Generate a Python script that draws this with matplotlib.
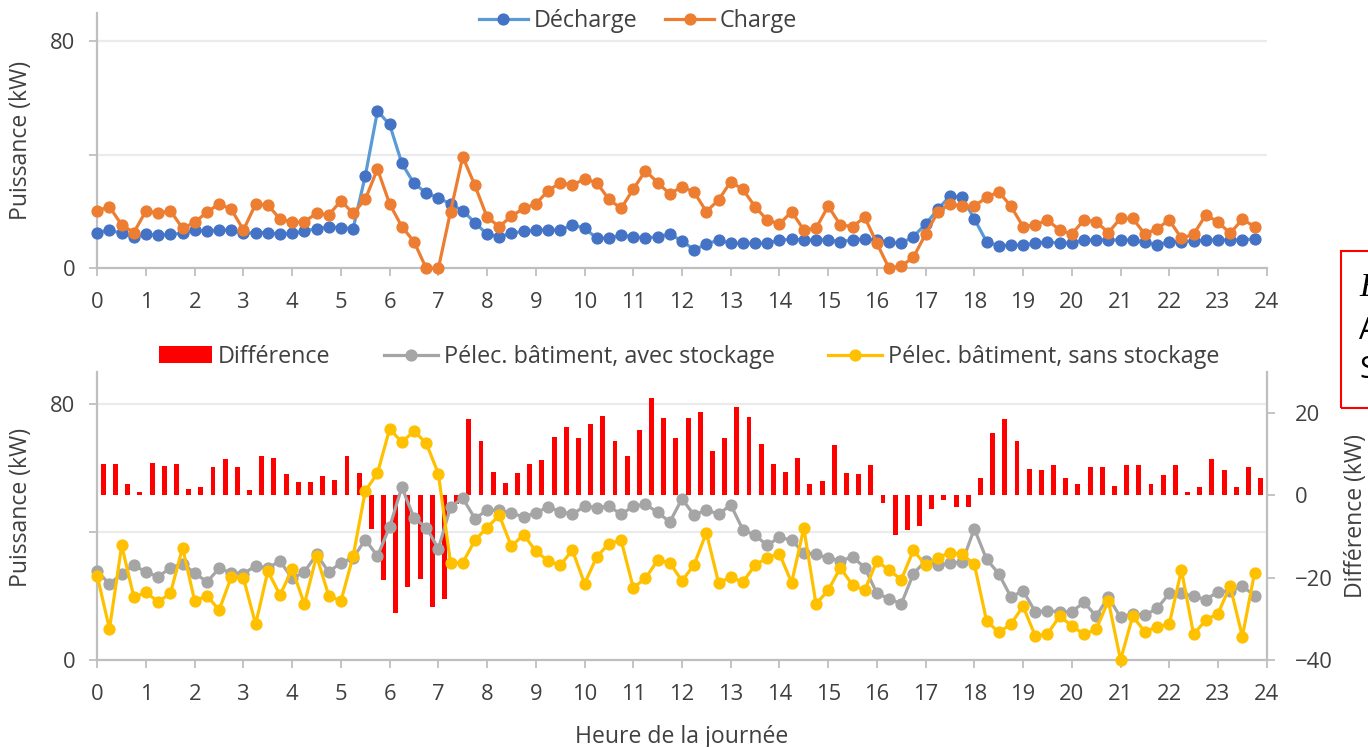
import matplotlib
matplotlib.use("Agg")
import matplotlib.pyplot as plt
import numpy as np
from matplotlib.lines import Line2D
from matplotlib.patches import Patch, Rectangle
from matplotlib.transforms import blended_transform_factory

plt.rcParams['font.family'] = ['Open Sans', 'DejaVu Sans']

# ---------------- data ----------------
hours = np.arange(96) * 0.25          # quarter-hour time steps
x_ticks = list(range(0, 25))

decharge = [12.6, 13.5, 12.3, 11.2, 12.0, 11.6, 12.0, 12.3, 13.5, 13.1, 13.5, 13.5, 12.3, 12.6, 12.6, 12.0,
            12.3, 13.1, 14.0, 14.7, 14.3, 14.0, 32.6, 55.4, 50.7, 37.0, 29.9, 26.6, 24.8, 22.7, 20.3, 16.1,
            12.0, 11.2, 12.3, 13.1, 13.5, 13.5, 13.5, 15.3, 14.2, 10.6, 10.7, 11.6, 11.2, 10.6, 11.2, 12.0,
            9.7, 6.5, 8.5, 10.0, 8.8, 8.8, 8.8, 8.8, 10.0, 10.2, 10.0, 10.0, 10.0, 9.4, 10.0, 10.4,
            10.0, 9.2, 8.8, 11.2, 15.6, 20.8, 25.5, 25.0, 17.4, 9.4, 7.9, 8.2, 8.2, 8.8, 9.4, 8.8,
            9.0, 10.0, 10.0, 10.0, 10.0, 10.0, 9.2, 8.2, 9.4, 9.4, 9.7, 10.0, 10.0, 10.0, 10.0, 10.4]

charge = [20.3, 21.7, 15.3, 12.6, 20.3, 19.4, 20.3, 14.1, 16.2, 19.8, 22.7, 20.8, 13.5, 22.7, 22.3, 17.4,
          16.2, 16.4, 19.4, 18.8, 23.8, 19.4, 24.3, 35.0, 22.7, 14.7, 9.4, 0.0, 0.0, 20.0, 39.3, 29.2,
          18.0, 14.7, 18.4, 21.1, 22.7, 27.3, 30.2, 29.3, 31.5, 30.2, 24.3, 21.1, 27.9, 34.4, 30.2, 26.2,
          28.8, 26.8, 20.0, 24.1, 30.5, 27.8, 21.7, 17.0, 15.6, 20.0, 13.5, 14.1, 21.9, 15.3, 14.7, 18.0,
          8.8, 0.0, 0.8, 3.9, 12.1, 19.8, 22.7, 21.9, 21.9, 25.0, 27.0, 21.9, 14.7, 15.3, 17.0, 13.5,
          12.1, 17.0, 16.4, 12.6, 17.6, 17.6, 12.0, 14.0, 17.0, 10.6, 12.0, 18.8, 16.4, 12.3, 17.3, 14.7]

difference = [7.7, 7.7, 2.7, 0.8, 7.9, 7.1, 7.7, 1.5, 2.1, 6.8, 8.9, 7.0, 1.2, 9.5, 9.1, 5.1,
              3.3, 3.3, 4.8, 3.7, 9.5, 5.5, -8.1, -20.6, -28.6, -22.3, -20.3, -27.0, -25.2, -2.0, 18.5, 13.3,
              5.8, 3.0, 5.5, 7.7, 8.6, 14.2, 16.6, 13.9, 17.3, 19.4, 13.3, 9.5, 16.0, 23.8, 18.9, 13.9,
              18.9, 20.2, 10.8, 13.9, 21.6, 19.1, 12.6, 7.7, 5.8, 9.2, 2.7, 3.6, 12.3, 5.5, 5.2, 7.3,
              -1.9, -9.6, -8.4, -7.4, -3.4, -1.2, -2.7, -2.7, 4.3, 15.2, 18.5, 13.3, 6.5, 6.1, 7.3, 4.3,
              2.7, 7.0, 6.8, 2.4, 7.3, 7.3, 2.7, 4.9, 7.3, 0.8, 2.1, 8.9, 6.1, 2.1, 7.0, 4.3]

avec_stockage = [27.8, 23.7, 27.0, 29.6, 27.5, 26.0, 28.8, 30.1, 27.2, 24.4, 28.6, 27.3, 27.0, 29.4, 28.8, 30.9,
                 25.5, 27.5, 33.0, 27.5, 30.4, 31.9, 37.6, 32.5, 41.6, 54.0, 44.4, 41.4, 34.8, 47.8, 50.6, 44.2,
                 46.8, 46.8, 45.9, 44.7, 46.0, 47.8, 46.4, 45.5, 48.1, 47.6, 48.1, 45.5, 48.1, 48.6, 46.2, 43.1,
                 50.4, 45.2, 47.0, 45.5, 48.5, 40.7, 39.0, 35.8, 38.4, 37.4, 33.5, 33.0, 31.9, 31.0, 32.2, 28.9,
                 20.8, 19.2, 17.5, 27.0, 31.0, 29.6, 30.3, 30.6, 41.0, 31.5, 27.0, 19.7, 21.6, 15.1, 15.4, 15.1,
                 15.1, 18.0, 13.7, 19.7, 13.3, 14.5, 14.0, 16.1, 20.8, 20.8, 19.9, 18.9, 21.3, 21.6, 23.1, 20.1]

sans_stockage = [26.2, 9.7, 35.8, 19.7, 21.1, 18.2, 20.8, 35.1, 18.4, 20.1, 15.6, 25.9, 25.5, 11.2, 27.8, 20.3,
                 28.4, 17.5, 32.5, 20.1, 18.4, 32.4, 52.8, 58.4, 72.2, 68.1, 71.5, 67.8, 58.2, 30.3, 30.4, 37.4,
                 41.4, 45.2, 35.5, 39.2, 34.0, 31.0, 29.6, 34.3, 23.9, 32.2, 36.4, 37.4, 22.6, 25.5, 31.2, 30.4,
                 24.7, 29.8, 39.8, 24.2, 25.8, 24.4, 29.6, 32.0, 33.2, 24.2, 41.2, 17.5, 21.8, 28.8, 23.4, 21.8,
                 30.9, 28.1, 25.1, 34.3, 29.6, 32.0, 33.5, 33.0, 29.9, 12.3, 8.6, 11.2, 16.8, 7.5, 8.1, 13.7,
                 10.7, 8.0, 9.6, 18.5, 0.0, 13.7, 8.8, 10.4, 11.2, 28.1, 8.0, 12.5, 14.5, 23.1, 7.3, 27.2]

# ---------------- style ----------------
C_BLUE_M = '#4472C4'
C_BLUE_L = '#5B9BD5'
C_ORANGE = '#ED7D31'
C_GRAY = '#A5A5A5'
C_YELLOW = '#FFC000'
C_RED = '#FF0000'
AX_COL = '#BFBFBF'
GRID_COL = '#EBEBEB'
TXT = '#404040'
FS_TICK = 15.8
FS_LAB = 16.6
FS_LEG = 16.8
LW = 2.3
MS = 7.8

W, H = 1368, 747
fig = plt.figure(figsize=(W / 100, H / 100), dpi=100)

def frac_rect(x0, y_top, x1, y_bot):
    return [x0 / W, 1 - y_bot / H, (x1 - x0) / W, (y_bot - y_top) / H]

def style_axis(ax):
    for s in ['top', 'right']:
        ax.spines[s].set_visible(False)
    ax.spines['left'].set_color(AX_COL)
    ax.spines['bottom'].set_color(AX_COL)
    ax.spines['left'].set_linewidth(1.6)
    ax.spines['bottom'].set_linewidth(1.6)
    ax.set_xlim(0, 24)
    ax.set_xticks(x_ticks)
    ax.set_xticklabels([str(t) for t in x_ticks])
    ax.set_ylim(0, 90)
    ax.set_yticks([0, 40, 80])
    ax.set_yticklabels(['0', '', '80'])
    ax.tick_params(axis='both', colors=AX_COL, labelcolor=TXT, labelsize=FS_TICK,
                   length=6, width=1.3, direction='out')
    ax.tick_params(axis='x', pad=11)
    ax.tick_params(axis='y', pad=10)

# ---------------- top chart ----------------
ax1 = fig.add_axes(frac_rect(97.3, 13, 1266.7, 268.3))
style_axis(ax1)
for gy in [40, 80]:
    ax1.axhline(gy, color=GRID_COL, lw=1.6, zorder=0)
ax1.plot(hours, decharge, color=C_BLUE_L, lw=LW, marker='o', ms=MS,
         mfc=C_BLUE_M, mec=C_BLUE_M, label='Décharge', zorder=3, clip_on=False)
ax1.plot(hours, charge, color=C_ORANGE, lw=LW, marker='o', ms=MS,
         mfc=C_ORANGE, mec=C_ORANGE, label='Charge', zorder=4, clip_on=False)
ax1.set_ylabel('Puissance (kW)', fontsize=FS_LAB, color=TXT)
ax1.yaxis.set_label_coords(-0.055, 0.5)

leg1 = fig.legend(handles=[
    Line2D([], [], color=C_BLUE_L, lw=LW, marker='o', ms=MS, mfc=C_BLUE_M, mec=C_BLUE_M),
    Line2D([], [], color=C_ORANGE, lw=LW, marker='o', ms=MS, mfc=C_ORANGE, mec=C_ORANGE)],
    labels=['Décharge', 'Charge'], loc='center', bbox_to_anchor=(638 / W, 1 - 21 / H),
    ncol=2, frameon=False, fontsize=FS_LEG, handlelength=2.1, handletextpad=0.25,
    columnspacing=1.2, labelcolor=TXT, borderpad=0)

# ---------------- bottom chart ----------------
rect_b = frac_rect(97.3, 372, 1266.7, 660)
ax_bar = fig.add_axes(rect_b)              # bars, right axis (drawn behind)
ax2 = fig.add_axes(rect_b, sharex=ax_bar)  # lines, left axis (drawn on top)
ax2.patch.set_visible(False)

ax_bar.set_xlim(0, 24)
ax_bar.set_ylim(-40, 30)
ax_bar.yaxis.tick_right()
ax_bar.yaxis.set_label_position('right')
ax_bar.set_yticks([-40, -20, 0, 20])
for s in ['top', 'left', 'bottom']:
    ax_bar.spines[s].set_visible(False)
ax_bar.spines['right'].set_color(AX_COL)
ax_bar.spines['right'].set_linewidth(1.6)
ax_bar.tick_params(axis='y', colors=AX_COL, labelcolor=TXT, labelsize=FS_TICK,
                   length=6, width=1.3, direction='out', pad=14)
ax_bar.tick_params(axis='x', bottom=False, labelbottom=False)
ax_bar.patch.set_visible(False)

# gridlines at left-axis values, drawn behind the bars
tr = blended_transform_factory(ax_bar.transAxes, ax2.transData)
for gy in [40, 80]:
    ax_bar.add_line(Line2D([0, 1], [gy, gy], transform=tr, color=GRID_COL, lw=1.6, zorder=0))

ax_bar.bar(hours + 0.125, difference, width=0.1, color=C_RED, zorder=2)
ax_bar.set_ylabel('Différence (kW)', fontsize=FS_LAB, color=TXT)
ax_bar.yaxis.set_label_coords(1.066, 0.5)

style_axis(ax2)
ax2.plot(hours, avec_stockage, color=C_GRAY, lw=LW, marker='o', ms=MS,
         mfc=C_GRAY, mec=C_GRAY, zorder=3, clip_on=False)
ax2.plot(hours, sans_stockage, color=C_YELLOW, lw=LW, marker='o', ms=MS,
         mfc=C_YELLOW, mec=C_YELLOW, zorder=4, clip_on=False)
ax2.set_ylabel('Puissance (kW)', fontsize=FS_LAB, color=TXT)
ax2.yaxis.set_label_coords(-0.055, 0.53)
ax2.set_xlabel('Heure de la journée', fontsize=FS_LAB, color=TXT)
ax2.xaxis.set_label_coords(0.5, -0.225)

leg2 = fig.legend(handles=[
    Patch(facecolor=C_RED, edgecolor='none'),
    Line2D([], [], color=C_GRAY, lw=LW, marker='o', ms=MS, mfc=C_GRAY, mec=C_GRAY),
    Line2D([], [], color=C_YELLOW, lw=LW, marker='o', ms=MS, mfc=C_YELLOW, mec=C_YELLOW)],
    labels=['Différence', 'Pélec. bâtiment, avec stockage', 'Pélec. bâtiment, sans stockage'],
    loc='center', bbox_to_anchor=(689 / W, 1 - 357 / H),
    ncol=3, frameon=False, fontsize=FS_LEG, handlelength=2.3, handleheight=0.75,
    handletextpad=0.25, columnspacing=2.3, labelcolor=TXT, borderpad=0)

# ---------------- cropped annotation box at the right edge ----------------
fig.patches.append(Rectangle((1340.7 / W, 1 - 407.7 / H), 0.05, 157 / H,
                             transform=fig.transFigure, fill=False,
                             edgecolor=C_RED, lw=1.5))
fig.text(1359 / W, 1 - 288 / H, 'E', fontsize=24, style='italic',
         family=['Liberation Serif', 'DejaVu Serif'], va='center', ha='left', color='black')
fig.text(1359 / W, 1 - 331 / H, 'A', fontsize=22, va='center', ha='left', color='black')
fig.text(1359 / W, 1 - 370 / H, 'S', fontsize=22, va='center', ha='left', color='black')

fig.savefig('out.png', dpi=100)
